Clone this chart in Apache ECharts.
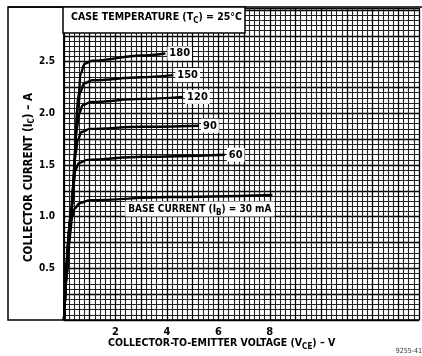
<!DOCTYPE html>
<html>
<head>
<meta charset="utf-8">
<script src="https://cdn.jsdelivr.net/npm/echarts@6/dist/echarts.min.js"></script>
<style>
  html, body { margin: 0; padding: 0; background: #fff; }
  #chart { width: 422px; height: 356px; }
</style>
</head>
<body>
<div id="chart"></div>
<script>
// collector curves, [Vce (V), Ic (A)]
const ib30 = [[0, 0], [0.12, 0.45], [0.24, 0.85], [0.32, 1.0], [0.42, 1.08], [0.6, 1.13], [1.0, 1.16], [4, 1.19], [8.1, 1.21]];
const ib60 = [[0, 0], [0.2, 0.75], [0.36, 1.3], [0.44, 1.45], [0.58, 1.52], [0.9, 1.55], [3, 1.58], [6.25, 1.6]];
const ib90 = [[0, 0], [0.25, 0.95], [0.45, 1.6], [0.53, 1.74], [0.68, 1.82], [1.0, 1.85], [3, 1.87], [5.25, 1.88]];
const ib120 = [[0, 0], [0.3, 1.1], [0.5, 1.85], [0.58, 1.99], [0.73, 2.08], [1.05, 2.11], [3, 2.14], [4.63, 2.16]];
const ib150 = [[0, 0], [0.3, 1.1], [0.55, 2.05], [0.62, 2.2], [0.78, 2.29], [1.1, 2.32], [3, 2.35], [4.25, 2.37]];
const ib180 = [[0, 0], [0.3, 1.1], [0.58, 2.2], [0.64, 2.38], [0.8, 2.48], [1.1, 2.51], [3, 2.56], [3.94, 2.58]];

const curveNames = ['30', '60', '90', '120', '150', '180'];
const xTickLabels = [2, 4, 6, 8];
const yTickLabels = [0.5, 1.0, 1.5, 2.0, 2.5];

const FONT = 'DejaVu Sans Condensed';

const chart = echarts.init(document.getElementById('chart'));

function curve(name, data, label) {
  return {
    name: name,
    type: 'line',
    data: data,
    symbol: 'none',
    smooth: 0.35,
    smoothMonotone: 'x',
    z: 5,
    lineStyle: { color: '#000', width: 2.4 },
    endLabel: label
  };
}

const numLabel = (txt) => ({
  show: true,
  formatter: txt,
  distance: 2,
  fontFamily: FONT,
  fontWeight: 'bold',
  fontSize: 11,
  color: '#000',
  backgroundColor: '#fff',
  padding: [2, 2, 1, 2]
});

const richText = (size) => ({
  t: { fontFamily: FONT, fontWeight: 'bold', fontSize: size, fill: '#000', color: '#000' },
  sub: { fontFamily: FONT, fontWeight: 'bold', fontSize: 8, fill: '#000', color: '#000', padding: [6, 0, 0, 0] }
});

chart.setOption({
  animation: false,
  backgroundColor: '#fff',
  grid: { left: 64, right: 0, top: 8, bottom: 36 },
  xAxis: {
    type: 'value',
    min: 0,
    max: 13.8,
    interval: 1,
    axisLine: { show: true, onZero: false, lineStyle: { color: '#000', width: 1.5 } },
    axisTick: { show: false },
    minorTick: { show: false, splitNumber: 5 },
    splitLine: { show: true, lineStyle: { color: '#000', width: 1.3 } },
    minorSplitLine: { show: true, lineStyle: { color: '#222', width: 1.1 } },
    axisLabel: {
      margin: 7,
      fontFamily: FONT,
      fontWeight: 'bold',
      fontSize: 11,
      color: '#000',
      formatter: (v) => (xTickLabels.indexOf(v) >= 0 ? String(v) : '')
    }
  },
  yAxis: {
    type: 'value',
    min: 0,
    max: 3.02,
    interval: 0.25,
    axisLine: { show: true, onZero: false, lineStyle: { color: '#000', width: 1.5 } },
    axisTick: { show: false },
    minorTick: { show: false, splitNumber: 5 },
    splitLine: { show: true, lineStyle: { color: '#000', width: 1.3 } },
    minorSplitLine: { show: true, lineStyle: { color: '#222', width: 1.1 } },
    axisLabel: {
      margin: 9,
      fontFamily: FONT,
      fontWeight: 'bold',
      fontSize: 10,
      color: '#000',
      formatter: (v) => {
        const hit = yTickLabels.find((t) => Math.abs(t - v) < 1e-6);
        return hit !== undefined ? hit.toFixed(1) : '';
      }
    }
  },
  series: [
    curve(curveNames[0], ib30, {
      show: true,
      formatter: '{t|BASE CURRENT (I}{sub|B}{t|) = 30 mA}',
      align: 'right',
      offset: [2, 14],
      distance: 0,
      backgroundColor: '#fff',
      padding: [1, 3, 0, 3],
      rich: richText(10)
    }),
    curve(curveNames[1], ib60, numLabel('60')),
    curve(curveNames[2], ib90, numLabel('90')),
    curve(curveNames[3], ib120, numLabel('120')),
    curve(curveNames[4], ib150, numLabel('150')),
    curve(curveNames[5], ib180, numLabel('180'))
  ],
  graphic: [
    // outer frame of the left label panel and top edge
    {
      type: 'rect',
      z: 1,
      shape: { x: 8, y: 7, width: 56, height: 313 },
      style: { fill: 'none', stroke: '#000', lineWidth: 1.5 }
    },
    {
      type: 'line',
      z: 1,
      shape: { x1: 8, y1: 7, x2: 422, y2: 7 },
      style: { stroke: '#000', lineWidth: 1.5 }
    },
    {
      type: 'rect',
      z: 10,
      shape: { x: 63, y: 7, width: 182, height: 26 },
      style: { fill: '#fff', stroke: '#000', lineWidth: 1.5 }
    },
    {
      type: 'text',
      z: 11,
      left: 71,
      top: 12,
      style: {
        text: '{t|CASE TEMPERATURE (T}{sub|C}{t|) = 25°C}',
        rich: richText(10.5)
      }
    },
    {
      type: 'text',
      z: 11,
      x: 22,
      y: 262,
      rotation: Math.PI / 2,
      style: {
        text: '{t|COLLECTOR CURRENT (I}{sub|C}{t|) – A}',
        rich: richText(11.5)
      }
    },
    {
      type: 'text',
      z: 11,
      left: 108,
      top: 338,
      style: {
        text: '{t|COLLECTOR-TO-EMITTER VOLTAGE (V}{sub|CE}{t|) – V}',
        rich: richText(10.5)
      }
    },
    {
      type: 'text',
      z: 11,
      right: 0,
      top: 348,
      style: { text: '9255-41', fontFamily: FONT, fontSize: 7, fill: '#333' }
    }
  ]
});
</script>
</body>
</html>
